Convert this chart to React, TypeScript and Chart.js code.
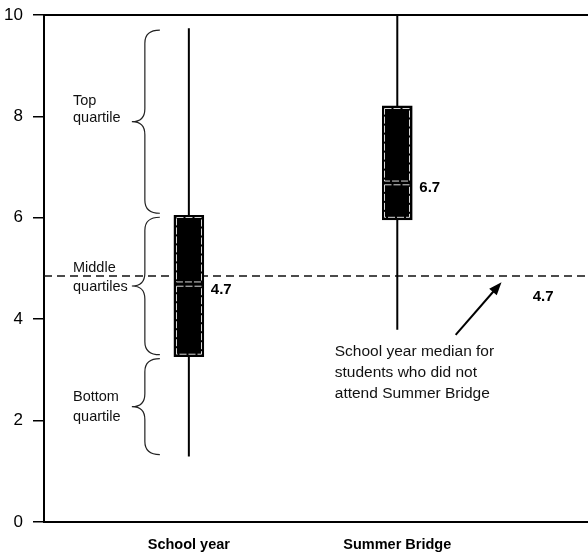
import React, { useEffect, useRef } from 'react';
import { Chart, registerables } from 'chart.js';

Chart.register(...registerables);

// ---- data ----
const categories = ['School year', 'Summer Bridge'];
const whiskerLow = [1.29, 3.79];
const quartileLow = [3.26, 5.96];
const medians = [4.7, 6.7];
const quartileHigh = [6.05, 8.21];
const whiskerHigh = [9.74, 10];
const medianLabels = ['4.7', '6.7'];
const referenceMedian = 4.85;
const referenceLabel = '4.7';
const yTickValues = [0, 2, 4, 6, 8, 10];
const braceLabels = [
  ['Top', 'quartile'],
  ['Middle', 'quartiles'],
  ['Bottom', 'quartile'],
];
const braceLabelValues = [
  [8.22, 7.88],
  [4.94, 4.56],
  [2.38, 1.99],
];
const noteLines = [
  'School year median for',
  'students who did not',
  'attend Summer Bridge',
];
const X_MIN = 0.305;
const X_MAX = 2.915;

const FONT = '"Liberation Sans", Arial, Helvetica, sans-serif';

function drawBrace(ctx: CanvasRenderingContext2D, endX: number, spineX: number, tipX: number, yTop: number, yBottom: number) {
  const r = 13;
  const yMid = (yTop + yBottom) / 2;
  ctx.beginPath();
  ctx.moveTo(endX, yTop);
  ctx.quadraticCurveTo(spineX, yTop, spineX, yTop + r);
  ctx.lineTo(spineX, yMid - r);
  ctx.quadraticCurveTo(spineX, yMid, tipX, yMid);
  ctx.quadraticCurveTo(spineX, yMid, spineX, yMid + r);
  ctx.lineTo(spineX, yBottom - r);
  ctx.quadraticCurveTo(spineX, yBottom, endX, yBottom);
  ctx.stroke();
}

const annotationPlugin = {
  id: 'boxAnnotations',
  afterDatasetsDraw(chart: any) {
    const ctx: CanvasRenderingContext2D = chart.ctx;
    const xs = chart.scales.x;
    const ys = chart.scales.y;
    const area = chart.chartArea;
    ctx.save();

    // top frame line
    ctx.strokeStyle = '#000';
    ctx.lineWidth = 2;
    ctx.beginPath();
    ctx.moveTo(area.left - 1, area.top);
    ctx.lineTo(area.right, area.top);
    ctx.stroke();

    // box inner outlines, medians and labels
    const meta = chart.getDatasetMeta(0);
    meta.data.forEach((bar: any, i: number) => {
      const x = bar.x;
      const w = bar.width;
      const left = x - w / 2;
      const right = x + w / 2;
      const top = ys.getPixelForValue(quartileHigh[i]);
      const bottom = ys.getPixelForValue(quartileLow[i]);
      const med = ys.getPixelForValue(medians[i]);
      ctx.strokeStyle = 'rgba(255,255,255,0.85)';
      ctx.lineWidth = 1;
      ctx.setLineDash([7, 2]);
      ctx.strokeRect(Math.round(left) + 2.5, Math.round(top) + 2.5, w - 5, med - 1.5 - (top + 2.5));
      ctx.strokeRect(Math.round(left) + 2.5, med + 2.5, w - 5, bottom - 2.5 - (med + 2.5));
      ctx.setLineDash([]);
      ctx.fillStyle = '#000';
      ctx.font = `bold 15px ${FONT}`;
      ctx.textAlign = 'left';
      ctx.textBaseline = 'alphabetic';
      ctx.fillText(medianLabels[i], right + 7, med + 10);
    });

    // braces beside the first box
    const cx = xs.getPixelForValue(1);
    const segments = [
      [whiskerHigh[0], quartileHigh[0]],
      [quartileHigh[0], quartileLow[0]],
      [quartileLow[0], whiskerLow[0]],
    ];
    ctx.strokeStyle = '#222';
    ctx.lineWidth = 1.2;
    segments.forEach(([a, b]) => {
      const yTop = ys.getPixelForValue(a) + 2;
      const yBot = ys.getPixelForValue(b) - 2;
      drawBrace(ctx, cx - 29, cx - 44, cx - 57, yTop, yBot);
    });
    ctx.fillStyle = '#111';
    ctx.font = `14.5px ${FONT}`;
    ctx.textAlign = 'left';
    braceLabels.forEach((lines, k) => {
      lines.forEach((t, j) => {
        ctx.fillText(t, 73, ys.getPixelForValue(braceLabelValues[k][j]));
      });
    });

    // note text
    ctx.font = `15.5px ${FONT}`;
    const noteX = xs.getPixelForValue(1.70);
    const noteY = ys.getPixelForValue(3.27);
    noteLines.forEach((t, j) => ctx.fillText(t, noteX, noteY + j * 21));

    // arrow
    const ax0 = xs.getPixelForValue(2.28);
    const ay0 = ys.getPixelForValue(3.69);
    const ax1 = xs.getPixelForValue(2.50);
    const ay1 = ys.getPixelForValue(4.73);
    const ang = Math.atan2(ay1 - ay0, ax1 - ax0);
    ctx.strokeStyle = '#000';
    ctx.lineWidth = 2;
    ctx.beginPath();
    ctx.moveTo(ax0, ay0);
    ctx.lineTo(ax1 - 8 * Math.cos(ang), ay1 - 8 * Math.sin(ang));
    ctx.stroke();
    ctx.fillStyle = '#000';
    ctx.beginPath();
    ctx.moveTo(ax1, ay1);
    ctx.lineTo(ax1 - 13 * Math.cos(ang) + 5 * Math.sin(ang), ay1 - 13 * Math.sin(ang) - 5 * Math.cos(ang));
    ctx.lineTo(ax1 - 13 * Math.cos(ang) - 5 * Math.sin(ang), ay1 - 13 * Math.sin(ang) + 5 * Math.cos(ang));
    ctx.closePath();
    ctx.fill();

    // reference label
    ctx.font = `bold 15px ${FONT}`;
    ctx.textAlign = 'center';
    ctx.fillText(referenceLabel, xs.getPixelForValue(2.70), ys.getPixelForValue(referenceMedian) + 25);

    ctx.restore();
  },
};

export default function App() {
  const canvasRef = useRef<HTMLCanvasElement | null>(null);

  useEffect(() => {
    document.body.style.margin = '0';
    const canvas = canvasRef.current;
    if (!canvas) return;

    const boxData = categories.map((_, i) => ({ x: i + 1, y: [quartileLow[i], quartileHigh[i]] }));
    const whiskerSets = categories.map((c, i) => ({
      type: 'line' as const,
      label: `${c} whisker`,
      data: [
        { x: i + 1, y: whiskerLow[i] },
        { x: i + 1, y: whiskerHigh[i] },
      ],
      borderColor: '#000',
      borderWidth: 2,
      pointRadius: 0,
      order: 1,
    }));

    const chart = new Chart(canvas, {
      type: 'bar',
      data: {
        datasets: [
          {
            type: 'bar',
            label: 'Quartiles',
            data: boxData as any,
            backgroundColor: '#000',
            borderColor: '#000',
            borderWidth: 1,
            borderSkipped: false,
            barThickness: 30,
            order: 0,
          },
          ...whiskerSets,
          {
            type: 'line',
            label: 'Reference median',
            data: [
              { x: X_MIN, y: referenceMedian },
              { x: X_MAX, y: referenceMedian },
            ],
            borderColor: '#111',
            borderWidth: 1.5,
            borderDash: [8, 5],
            pointRadius: 0,
            order: 2,
          },
        ] as any,
      },
      options: {
        animation: false,
        responsive: false,
        events: [],
        layout: { padding: { top: 15, right: 0, bottom: 0, left: 0 } },
        plugins: {
          legend: { display: false },
          tooltip: { enabled: false },
        },
        scales: {
          x: {
            type: 'linear',
            min: X_MIN,
            max: X_MAX,
            offset: false,
            afterBuildTicks: (scale: any) => {
              scale.ticks = categories.map((_, i) => ({ value: i + 1 }));
            },
            afterFit: (scale: any) => {
              scale.height = 31;
              scale.paddingLeft = 0;
              scale.paddingRight = 0;
            },
            ticks: {
              autoSkip: false,
              maxRotation: 0,
              padding: 14,
              color: '#000',
              font: { family: FONT, size: 14.5, weight: 'bold' },
              callback: (v: any) => categories[Math.round(Number(v)) - 1] ?? '',
            },
            grid: { display: false, drawTicks: false, offset: false },
            border: { display: true, color: '#000', width: 2 },
          },
          y: {
            type: 'linear',
            min: 0,
            max: 10,
            afterBuildTicks: (scale: any) => {
              scale.ticks = yTickValues.map((v) => ({ value: v }));
            },
            afterFit: (scale: any) => {
              scale.width = 44;
              scale.paddingTop = 0;
              scale.paddingBottom = 0;
            },
            ticks: {
              padding: 10,
              color: '#000',
              font: { family: FONT, size: 17 },
            },
            grid: {
              drawOnChartArea: false,
              drawTicks: true,
              tickLength: 11,
              color: '#000',
              lineWidth: 1.5,
            },
            border: { display: true, color: '#000', width: 2 },
          },
        },
      },
      plugins: [annotationPlugin],
    });

    return () => chart.destroy();
  }, []);

  return (
    <div style={{ width: 588, height: 553, position: 'relative' }}>
      <canvas ref={canvasRef} width={588} height={553} style={{ display: 'block' }} />
    </div>
  );
}
